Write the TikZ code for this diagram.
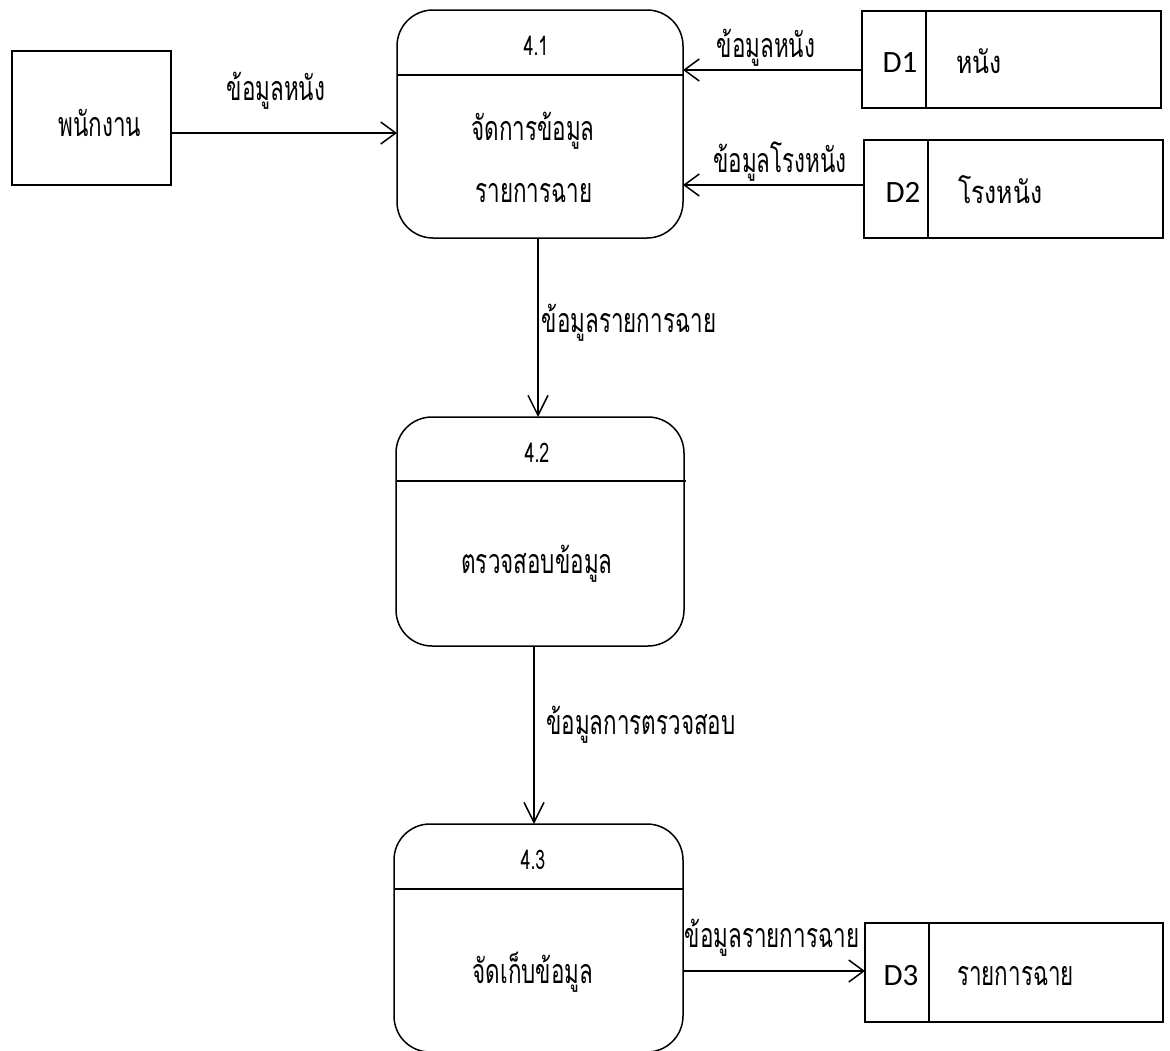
\documentclass[tikz,border=0pt]{standalone}
\usepackage{fontspec}
\usetikzlibrary{arrows.meta,calc}
\newfontfamily\thaicond[Script=Thai,FakeStretch=0.66]{Loma}
\newfontfamily\thaiwide[Script=Thai,FakeStretch=0.8]{Loma}
\newfontfamily\storeid{Carlito}

\tikzset{
  every node/.style={inner sep=0pt, outer sep=0pt},
  box/.style={draw, line width=1.5pt},
  proc/.style={box, rounded corners=36pt},
  store/.style={box},
  entity/.style={box},
  txt/.style={anchor=base, font=\thaicond\fontsize{34}{40}\selectfont},
  num/.style={anchor=base, font=\thaicond\fontsize{27}{32}\selectfont},
  sid/.style={anchor=base, font=\storeid\fontsize{31}{36}\selectfont},
  sname/.style={anchor=base west, font=\thaiwide\fontsize{31}{36}\selectfont},
  flowh/.style={line width=1.5pt, -{Straight Barb[length=15pt,width=22pt,line width=1.5pt]}},
  flowv/.style={line width=1.5pt, -{Straight Barb[length=20pt,width=20pt,line width=1.5pt]}},
}

\begin{document}
\begin{tikzpicture}[x=1pt,y=-1pt]
  \useasboundingbox (0,0) rectangle (1170,1050);

  % external entity
  \node[entity, minimum width=159pt, minimum height=134pt] (emp) at (91.5,118) {};
  \node[txt] (emp-t) at (100,136) {พนักงาน};

  % processes
  \node[proc, minimum width=286pt, minimum height=228pt] (p1) at (540,124) {};
  \node[proc, minimum width=288pt, minimum height=229pt] (p2) at (540,531.5) {};
  \node[proc, minimum width=289pt, minimum height=228pt] (p3) at (538.5,938) {};
  \draw[line width=1.5pt] (p1.west |- 0,75) -- (p1.east |- 0,75);
  \draw[line width=1.5pt] (p2.west |- 0,481) -- (686,481);
  \draw[line width=1.5pt] (p3.west |- 0,889) -- (p3.east |- 0,889);

  \node[num] (p1-n) at (536,55) {4.1};
  \node[txt] (p1-a) at (533,140) {จัดการข้อมูล};
  \node[txt] (p1-b) at (534,202) {รายการฉาย};
  \node[num] (p2-n) at (537,462) {4.2};
  \node[txt] (p2-a) at (537,573) {ตรวจสอบข้อมูล};
  \node[num] (p3-n) at (533,869) {4.3};
  \node[txt] (p3-a) at (533,983) {จัดเก็บข้อมูล};

  % data stores
  \node[store, minimum width=299pt, minimum height=97pt] (d1) at (1011.5,59.5) {};
  \node[store, minimum width=299pt, minimum height=98pt] (d2) at (1013.5,189) {};
  \node[store, minimum width=298pt, minimum height=99pt] (d3) at (1014,972.5) {};
  \draw[line width=1.5pt] (d1.north -| 926,0) -- (d1.south -| 926,0);
  \draw[line width=1.5pt] (d2.north -| 928,0) -- (d2.south -| 928,0);
  \draw[line width=1.5pt] (d3.north -| 929,0) -- (d3.south -| 929,0);
  \node[sid] (d1-id) at (900,72) {D1};
  \node[sname] (d1-n) at (956,73) {หนัง};
  \node[sid] (d2-id) at (903,202) {D2};
  \node[sname] (d2-n) at (958,203) {โรงหนัง};
  \node[sid] (d3-id) at (901,985) {D3};
  \node[txt, anchor=base west] (d3-n) at (957,985) {รายการฉาย};

  % data flows
  \coordinate (e1) at ($(emp.east)+(0,15)$);
  \draw[flowh] (e1) -- (e1 -| p1.west);
  \node[txt] (f1) at (276,100) {ข้อมูลหนัง};

  \coordinate (s1) at ($(d1.west)+(0,10.5)$);
  \draw[flowh] (s1) -- (s1 -| p1.east);
  \node[txt] (f2) at (766,57) {ข้อมูลหนัง};

  \coordinate (s2) at ($(d2.west)+(0,-4)$);
  \draw[flowh] (s2) -- (s2 -| p1.east);
  \node[txt] (f3) at (780,172) {ข้อมูลโรงหนัง};

  \coordinate (v1) at ($(p1.south)+(-2,0)$);
  \draw[flowv] (v1) -- (v1 |- p2.north);
  \node[txt] (f4) at (629,332) {ข้อมูลรายการฉาย};

  \coordinate (v2) at ($(p2.south)+(-6,0)$);
  \draw[flowv] (v2) -- (v2 |- p3.north);
  \node[txt] (f5) at (641,734) {ข้อมูลการตรวจสอบ};

  \coordinate (h3) at (p3.east |- 0,971);
  \draw[flowh] (h3) -- (h3 -| d3.west);
  \node[txt] (f6) at (772,947) {ข้อมูลรายการฉาย};
\end{tikzpicture}
\end{document}
